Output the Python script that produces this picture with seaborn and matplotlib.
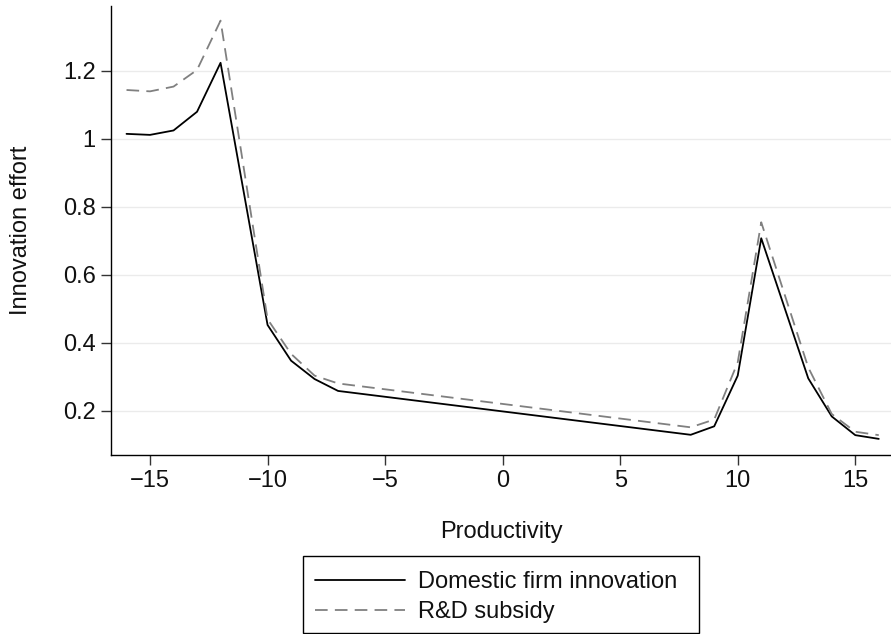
import matplotlib
matplotlib.use("Agg")
import matplotlib.pyplot as plt
import seaborn as sns
import pandas as pd
from matplotlib.lines import Line2D
from matplotlib.patches import Rectangle

# Productivity grid points and innovation effort for the two scenarios
productivity = [-16, -15, -14, -13, -12, -10, -9, -8, -7, 8, 9, 10, 11, 13, 14, 15, 16]
domestic = [1.015, 1.012, 1.025, 1.080, 1.224, 0.453, 0.348, 0.294, 0.259,
            0.130, 0.155, 0.304, 0.708, 0.296, 0.184, 0.129, 0.118]
subsidy = [1.144, 1.140, 1.154, 1.203, 1.348, 0.470, 0.368, 0.304, 0.281,
           0.152, 0.175, 0.343, 0.755, 0.328, 0.191, 0.139, 0.129]

series_names = ["Domestic firm innovation", "R&D subsidy"]
x_ticks = [-15, -10, -5, 0, 5, 10, 15]
y_ticks = [0.2, 0.4, 0.6, 0.8, 1.0, 1.2]
y_tick_labels = ["0.2", "0.4", "0.6", "0.8", "1", "1.2"]

df = pd.DataFrame({
    "Productivity": productivity * 2,
    "Innovation effort": domestic + subsidy,
    "series": [series_names[0]] * len(productivity) + [series_names[1]] * len(productivity),
})

sns.set_theme(style="white")
plt.rcParams["font.family"] = ["Liberation Sans", "DejaVu Sans"]
fs = 17

W, H = 891, 634
fig = plt.figure(figsize=(W / 100, H / 100), dpi=100)
ax = fig.add_axes([111 / W, 1 - 455 / H, 1 - 111 / W, (455 - 6) / H])

colors = {series_names[0]: "#000000", series_names[1]: "#808080"}
dashes = {series_names[0]: "", series_names[1]: (7, 4)}

sns.lineplot(data=df, x="Productivity", y="Innovation effort", hue="series",
             style="series", palette=colors, dashes=dashes, linewidth=1.3,
             legend=False, ax=ax, sort=False)

ax.set_xlim(-16.66, 16.52)
ax.set_ylim(0.0706, 1.391)
ax.set_xticks(x_ticks)
ax.set_xticklabels([str(t).replace("-", "\u2212") for t in x_ticks], fontsize=fs)
ax.set_yticks(y_ticks)
ax.set_yticklabels(y_tick_labels, fontsize=fs)

ax.grid(axis="y", color="#ebebeb", linewidth=1.0)
ax.grid(axis="x", visible=False)
ax.set_axisbelow(True)

for side in ["top", "right"]:
    ax.spines[side].set_visible(False)
for side in ["left", "bottom"]:
    ax.spines[side].set_color("#000000")
    ax.spines[side].set_linewidth(1.0)

ax.tick_params(axis="both", which="major", direction="out", length=7, width=1.0,
               color="#333333", pad=4, labelcolor="#111111",
               bottom=True, left=True)

ax.set_xlabel("Productivity", fontsize=fs, labelpad=21, color="#111111")
ax.set_ylabel("Innovation effort", fontsize=fs, labelpad=22, color="#111111")

# Legend box below the plot, with a wider right margin around the entries
box_l, box_r, box_t, box_b = 303, 699, 556, 633
fig.add_artist(Rectangle((box_l / W, 1 - box_b / H), (box_r - box_l) / W,
                         (box_b - box_t) / H, transform=fig.transFigure,
                         facecolor="white", edgecolor="#000000", linewidth=1.0))

handles = [
    Line2D([], [], color=colors[series_names[0]], linewidth=1.3),
    Line2D([], [], color=colors[series_names[1]], linewidth=1.3, linestyle=(0, (7, 4))),
]
leg = fig.legend(handles, series_names, loc="center left",
                 bbox_to_anchor=(308 / W, 1 - 597 / H),
                 fontsize=fs, frameon=False, handlelength=3.8, handletextpad=0.58,
                 borderpad=0.3, labelspacing=0.32, borderaxespad=0)
for t in leg.get_texts():
    t.set_color("#111111")

fig.savefig("out.png", dpi=100)
